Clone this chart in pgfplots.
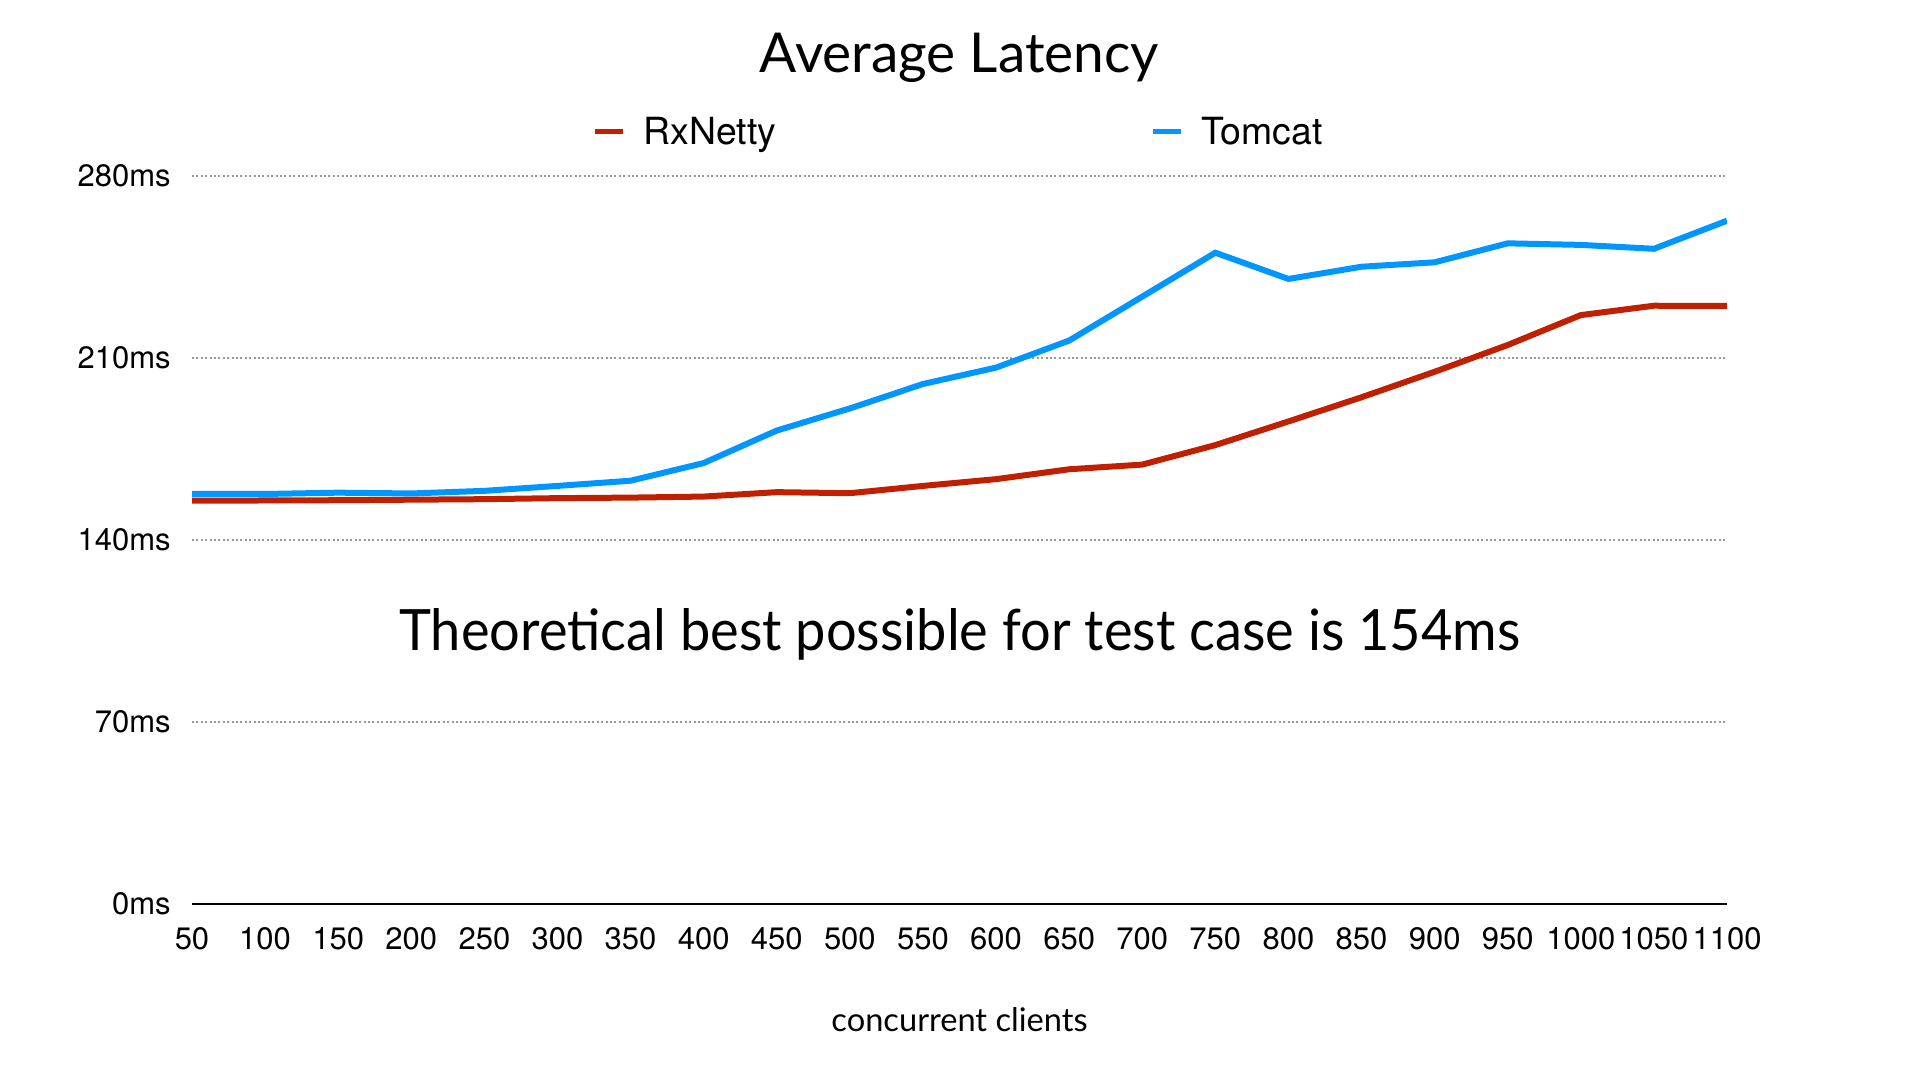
\documentclass[border=0pt]{standalone}
\usepackage{pgfplots}
\pgfplotsset{compat=1.18}
\usepackage{fontspec}
\setmainfont{TeX Gyre Heros}
\newfontfamily\lato{Lato}
\definecolor{rxred}{RGB}{192,32,0}
\definecolor{tcblue}{RGB}{0,150,255}
\begin{document}
\begin{tikzpicture}
\useasboundingbox (-96pt,-88pt) rectangle (864pt,452pt);
\begin{axis}[
  at={(0pt,0pt)}, anchor=south west,
  scale only axis,
  width=767.5pt, height=364pt,
  xmin=50, xmax=1100, ymin=0, ymax=280,
  xtick={50,100,...,1100},
  ytick={0,70,140,210,280},
  yticklabel={\pgfmathprintnumber{\tick}ms},
  /pgf/number format/1000 sep={},
  /pgf/number format/assume math mode=true,
  tick label style={font=\fontsize{15.5}{18}\selectfont},
  major tick length=0pt,
  axis x line*=bottom, axis y line*=left,
  x axis line style={-, black, line width=0.8pt},
  y axis line style={draw=none},
  ymajorgrids,
  major grid style={gray!80, line width=0.6pt, dash pattern=on 1pt off 1.2pt},
  yticklabel style={anchor=east, inner sep=0pt, xshift=-10.5pt},
  xticklabel style={anchor=north, inner sep=0pt, yshift=-11.5pt},
  title={\lato\fontsize{27.5}{33}\selectfont Average Latency},
  title style={at={(axis description cs:0.5,1)}, anchor=center, yshift=53pt},
  xlabel={\lato\fontsize{16.3}{20}\selectfont concurrent clients},
  xlabel style={at={(axis description cs:0.5,0)}, anchor=center, yshift=-58pt},
  legend columns=2,
  legend style={draw=none, fill=none, at={([yshift=22pt]axis description cs:0.5,1)}, anchor=center,
    font=\fontsize{18.7}{22}\selectfont,
    /tikz/every odd column/.append style={column sep=7pt},
    /tikz/every even column/.append style={column sep=185pt}},
  legend image code/.code={\draw[line width=2.5pt] (0pt,0pt) -- (14pt,0pt);},
]
\addplot[rxred, line width=3pt] coordinates {
(50,155.1) (100,155.2) (150,155.3) (200,155.5) (250,155.7) (300,156.1) (350,156.3)
(400,156.7) (450,158.4) (500,158.0) (550,160.8) (600,163.4) (650,167.2) (700,169.0)
(750,176.5) (800,185.6) (850,194.9) (900,204.7) (950,215.0) (1000,226.5) (1050,230.1) (1100,230.0)
};
\addlegendentry{RxNetty}
\addplot[tcblue, line width=3pt] coordinates {
(50,157.7) (100,157.7) (150,158.2) (200,157.9) (250,158.9) (300,160.8) (350,162.8)
(400,169.6) (450,182.1) (500,190.6) (550,200.0) (600,206.3) (650,216.7) (700,233.6)
(750,250.5) (800,240.4) (850,245.1) (900,246.8) (950,254.1) (1000,253.5) (1050,252.0) (1100,262.8)
};
\addlegendentry{Tomcat}
\node at (axis cs:575.3,103.8) {\scalebox{0.95}[1]{\lato\fontsize{28.5}{34}\selectfont Theoretical best possible for test case is 154ms}};
\end{axis}
\end{tikzpicture}
\end{document}
